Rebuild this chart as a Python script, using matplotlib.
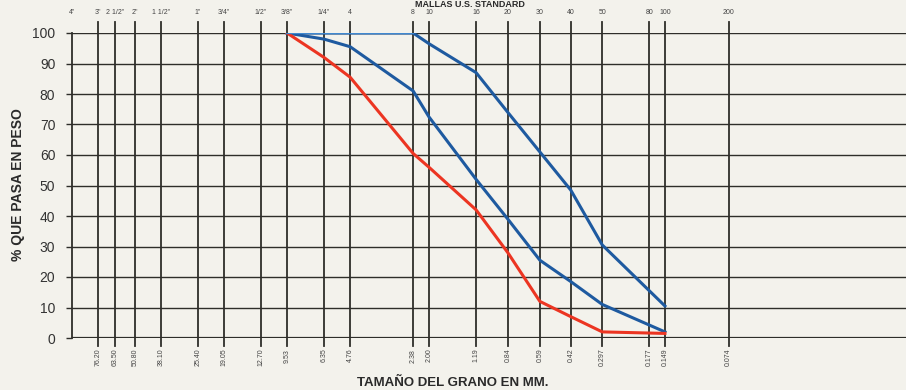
import matplotlib
matplotlib.use("Agg")
import matplotlib.pyplot as plt
import numpy as np

# Sieve openings (mm), top labels (US standard), bottom labels (mm)
sieve_mm = [101.6, 76.2, 63.5, 50.8, 38.1, 25.4, 19.05, 12.7, 9.53, 6.35, 4.76,
            2.38, 2.0, 1.19, 0.84, 0.59, 0.42, 0.297, 0.177, 0.149, 0.074]
top_labels = ['4"', '3"', '2 1/2"', '2"', '1 1/2"', '1"', '3/4"', '1/2"', '3/8"',
              '1/4"', '4', '8', '10', '16', '20', '30', '40', '50', '80', '100', '200']
bottom_labels = ['', '76.20', '63.50', '50.80', '38.10', '25.40', '19.05', '12.70',
                 '9.53', '6.35', '4.76', '2.38', '2.00', '1.19', '0.84', '0.59',
                 '0.42', '0.297', '0.177', '0.149', '0.074']

# Curves (% passing)
red_x = [9.53, 6.35, 4.76, 2.38, 2.0, 1.19, 0.84, 0.59, 0.42, 0.297, 0.149]
red_y = [100, 92, 85.5, 60.5, 56, 42, 28, 12, 7, 2, 1.5]

blue_low_x = [9.53, 6.35, 4.76, 2.38, 2.0, 1.19, 0.84, 0.59, 0.42, 0.297, 0.149]
blue_low_y = [100, 98, 95.5, 81, 72.5, 52, 39, 25.5, 18.5, 11, 2]

blue_up_x = [9.53, 2.38, 2.0, 1.19, 0.84, 0.59, 0.42, 0.297, 0.149]
blue_up_y = [100, 100, 96.5, 87, 74, 61, 48.5, 30.5, 10.5]

y_ticks = list(range(0, 101, 10))

bg = '#f3f2ec'
fig = plt.figure(figsize=(9.06, 3.90), dpi=100, facecolor=bg)
ax = fig.add_axes([72/906, 1-338/390, 1-72/906, 305/390])
ax.set_facecolor(bg)
ax.set_xscale('log')
ax.set_xlim(101.6, 0.0105)
ax.set_ylim(0, 100)

grid_c = '#2e2e2a'
# horizontal grid lines
for yv in y_ticks:
    lw = 1.6 if yv == 0 else 1.0
    ax.axhline(yv, color=grid_c, lw=lw, zorder=1)

# vertical sieve lines extending beyond plot
trans = ax.get_xaxis_transform()
for xv in sieve_mm[1:]:
    ax.plot([xv, xv], [-0.025, 1.036], transform=trans, color=grid_c, lw=1.3,
            clip_on=False, zorder=1)

# curves
ax.plot(blue_up_x, blue_up_y, color='#1e5aa0', lw=2.2, zorder=3)
ax.plot(blue_up_x[:2], blue_up_y[:2], color='#3f88d0', lw=1.6, zorder=4)
ax.plot(blue_low_x, blue_low_y, color='#1e5aa0', lw=2.2, zorder=3)
ax.plot(red_x, red_y, color='#ec3522', lw=2.2, zorder=3)

for s in ['top', 'right', 'bottom']:
    ax.spines[s].set_visible(False)
ax.spines['left'].set_color(grid_c)
ax.spines['left'].set_linewidth(1.3)

ax.set_yticks(y_ticks)
ax.set_yticklabels([str(v) for v in y_ticks], fontsize=10, color='#333333',
                   family='Liberation Sans')
ax.tick_params(axis='y', length=4, width=1, color=grid_c, pad=8)
ax.set_xticks([])
ax.xaxis.set_minor_locator(matplotlib.ticker.NullLocator())

# top labels
for xv, lab in zip(sieve_mm, top_labels):
    ax.text(xv, 1.066, lab, transform=trans, ha='center', va='center', fontsize=5,
            color='#444444', family='Liberation Sans', clip_on=False)
# bottom labels
for xv, lab in zip(sieve_mm, bottom_labels):
    if lab:
        ax.text(xv, -0.035, lab, transform=trans, ha='center', va='top', fontsize=5,
                rotation=90, color='#444444', family='Liberation Sans', clip_on=False)

fig.text(18/906, 1-185/390, '% QUE PASA EN PESO', rotation=90, ha='center',
         va='center', fontsize=10, fontweight='bold', color='#2a2a2a',
         family='Liberation Sans')
fig.text(453/906, 1-383/390, 'TAMAÑO DEL GRANO EN MM.', ha='center', va='center',
         fontsize=9.5, fontweight='bold', color='#2a2a2a', family='Liberation Sans')
fig.text(470/906, 1.0, 'MALLAS U.S. STANDARD', ha='center', va='top',
         fontsize=6.5, fontweight='bold', color='#2a2a2a', family='Liberation Sans')

fig.savefig('out.png', dpi=100, facecolor=bg)
